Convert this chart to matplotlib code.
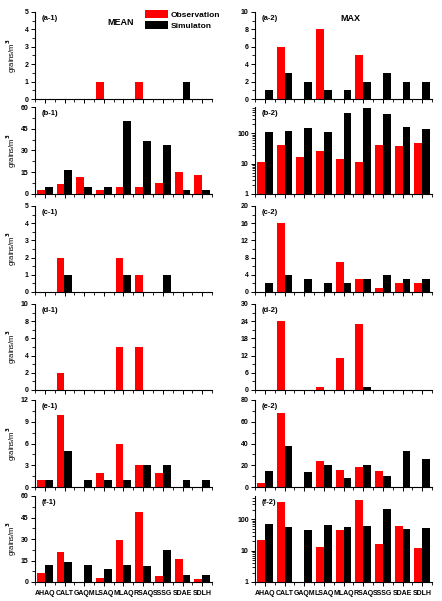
import numpy as np
import matplotlib.pyplot as plt
from matplotlib.ticker import MultipleLocator, AutoMinorLocator, LogLocator, NullFormatter, FuncFormatter

plt.rcParams['font.family'] = ['Liberation Sans', 'DejaVu Sans']
plt.rcParams['font.weight'] = 'bold'

sites = ["AHAQ", "CALT", "GAQM", "LSAQ", "MLAQ", "RSAQ", "SSSG", "SDAE", "SDLH"]

# MEAN (left column) / MAX (right column), observation vs simulation
a1_obs = [0, 0, 0, 1, 0, 1, 0, 0, 0]
a1_sim = [0, 0, 0, 0, 0, 0, 0, 1, 0]
a2_obs = [0, 6, 0, 8, 0, 5, 0, 0, 0]
a2_sim = [1, 3, 2, 1, 1, 2, 3, 2, 2]

b1_obs = [2.5, 6.7, 11.5, 2.5, 4.8, 4.8, 7.4, 15.2, 13.3]
b1_sim = [4.8, 16.3, 4.8, 4.8, 50.3, 36.3, 33.6, 2.5, 2.5]
b2_obs = [11, 42, 17, 26, 14, 11, 42, 38, 49]
b2_sim = [110, 117, 155, 110, 490, 670, 445, 170, 140]

c1_obs = [0, 2, 0, 0, 2, 1, 0, 0, 0]
c1_sim = [0, 1, 0, 0, 1, 0, 1, 0, 0]
c2_obs = [0, 16, 0, 0, 7, 3, 1, 2, 2]
c2_sim = [2, 4, 3, 2, 2, 3, 4, 3, 3]

d1_obs = [0, 2, 0, 0, 5, 5, 0, 0, 0]
d1_sim = [0, 0, 0, 0, 0, 0, 0, 0, 0]
d2_obs = [0, 24, 0, 1, 11, 23, 0, 0, 0]
d2_sim = [0, 0, 0, 0, 0, 1, 0, 0, 0]

e1_obs = [1, 10, 0, 2, 6, 3, 2, 0, 0]
e1_sim = [1, 5, 1, 1, 1, 3, 3, 1, 1]
e2_obs = [4, 68, 0, 24, 16, 18, 15, 0, 0]
e2_sim = [15, 38, 14, 20, 8, 20, 10, 33, 26]

f1_obs = [6, 21, 0, 3, 29, 49, 4, 16, 2]
f1_sim = [12, 14, 12, 9, 12, 11, 22, 5, 5]
f2_obs = [22, 360, 0, 13, 45, 415, 16, 61, 12.6]
f2_sim = [69, 58, 46, 66, 57, 63, 213, 49, 55]

panels = [
    ("(a-1)", a1_obs, a1_sim, 5, 1, "lin"), ("(a-2)", a2_obs, a2_sim, 10, 2, "lin"),
    ("(b-1)", b1_obs, b1_sim, 60, 15, "lin"), ("(b-2)", b2_obs, b2_sim, 750, None, "log"),
    ("(c-1)", c1_obs, c1_sim, 5, 1, "lin"), ("(c-2)", c2_obs, c2_sim, 20, 4, "lin"),
    ("(d-1)", d1_obs, d1_sim, 10, 2, "lin"), ("(d-2)", d2_obs, d2_sim, 30, 6, "lin"),
    ("(e-1)", e1_obs, e1_sim, 12, 3, "lin"), ("(e-2)", e2_obs, e2_sim, 80, 20, "lin"),
    ("(f-1)", f1_obs, f1_sim, 60, 15, "lin"), ("(f-2)", f2_obs, f2_sim, 560, None, "log"),
]

# row top / bottom in pixels
rows = [(12, 99), (107, 194), (206, 292), (304, 390), (400, 487), (496, 582)]
cols = [35, 255]
W, H = 442, 601

fig = plt.figure(figsize=(4.42, 6.01), dpi=100)
x = np.arange(len(sites))
bw = 0.4

for i, (lab, obs, sim, top, step, scale) in enumerate(panels):
    r, c = divmod(i, 2)
    t, b = rows[r]
    ax = fig.add_axes([cols[c] / W, 1 - b / H, 177 / W, (b - t) / H])
    ax.bar(x - bw / 2, obs, bw, color="#ff0000", label="Observation")
    ax.bar(x + bw / 2, sim, bw, color="black", label="Simulaton")
    ax.set_xlim(-0.5, len(sites) - 0.5)
    if scale == "log":
        ax.set_yscale("log")
        ax.set_ylim(1, top)
        ax.yaxis.set_major_locator(LogLocator(base=10))
        ax.yaxis.set_major_formatter(FuncFormatter(lambda v, p: "%d" % v))
        ax.yaxis.set_minor_locator(LogLocator(base=10, subs=np.arange(2, 10)))
        ax.yaxis.set_minor_formatter(NullFormatter())
    else:
        ax.set_ylim(0, top)
        ax.yaxis.set_major_locator(MultipleLocator(step))
        ax.yaxis.set_minor_locator(AutoMinorLocator(2))
    ax.set_xticks(x)
    ax.set_xticks(np.arange(-0.5, len(sites)), minor=True)
    if r == 5:
        ax.set_xticklabels(sites, fontsize=4.4, fontweight="bold")
    else:
        ax.set_xticklabels([])
    ax.spines["top"].set_visible(False)
    ax.spines["right"].set_visible(False)
    ax.tick_params(axis="both", which="major", length=3, width=0.7, labelsize=5, pad=1.5)
    ax.tick_params(axis="x", which="major", pad=3)
    ax.tick_params(axis="both", which="minor", length=2, width=0.6)
    ax.text(0.04, 0.92, lab, transform=ax.transAxes, fontsize=5.5, va="center")
    if c == 0:
        ax.set_ylabel("grains/m$^3$", fontsize=5.5)
        ax.yaxis.set_label_coords(-0.09, 0.5)
    if i == 0:
        ax.text(0.486, 0.885, "MEAN", transform=ax.transAxes, fontsize=6.5, ha="center", va="center")
        ax.legend(loc="upper left", bbox_to_anchor=(0.62, 1.02), frameon=False, fontsize=6,
                  handlelength=2.8, handleheight=1.0, handletextpad=0.3, labelspacing=0.3,
                  borderpad=0, borderaxespad=0)
    if i == 1:
        ax.text(0.54, 0.92, "MAX", transform=ax.transAxes, fontsize=6.5, ha="center", va="center")

plt.savefig("out.png", dpi=100)
